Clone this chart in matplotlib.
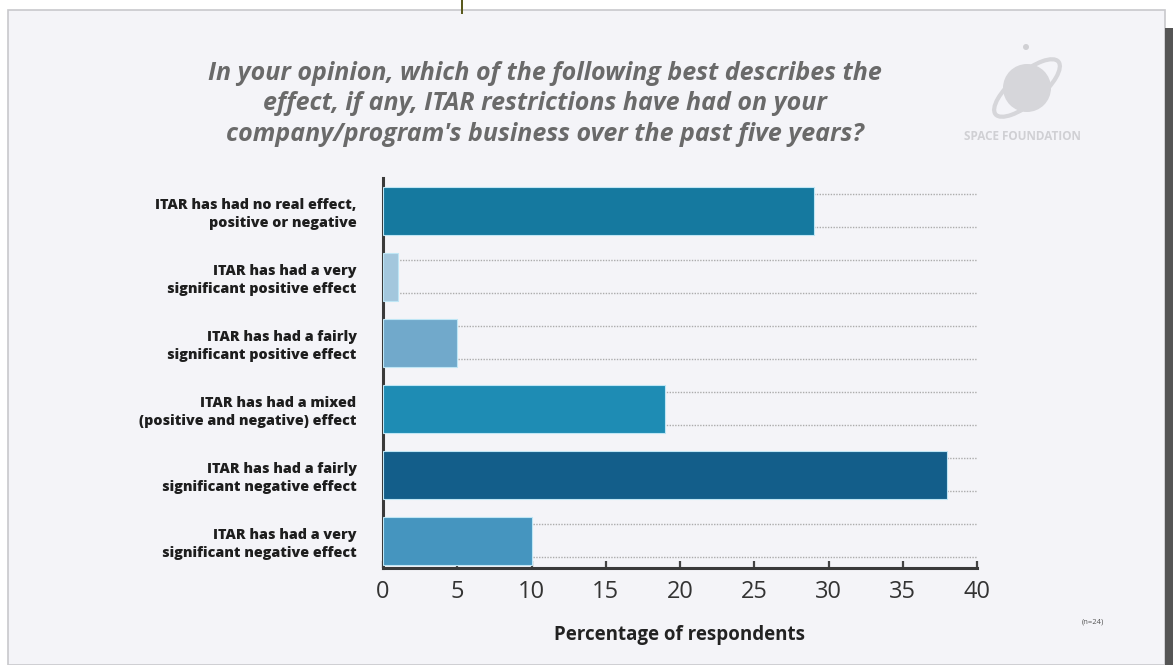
import matplotlib.pyplot as plt
from matplotlib.patches import Rectangle, Ellipse, Circle

# survey answers, top to bottom
labels = [
    "ITAR has had no real effect,\npositive or negative",
    "ITAR has had a very\nsignificant positive effect",
    "ITAR has had a fairly\nsignificant positive effect",
    "ITAR has had a mixed\n(positive and negative) effect",
    "ITAR has had a fairly\nsignificant negative effect",
    "ITAR has had a very\nsignificant negative effect",
]
percent = [29, 1, 5, 19, 38, 10]
bar_colors = ["#15799f", "#a3c7dd", "#71a9cb", "#1e8cb4", "#135e8a", "#4595bf"]
xticks = [0, 5, 10, 15, 20, 25, 30, 35, 40]

plt.rcParams['font.family'] = ['Open Sans', 'DejaVu Sans']

fig = plt.figure(figsize=(11.73, 6.65), dpi=100)
fig.patch.set_facecolor("white")

# page frame: light panel, dark right edge, small olive marker on top
fig.patches.append(Rectangle((8 / 1173, 0), 1157 / 1173, 1 - 10 / 665,
                             transform=fig.transFigure, facecolor="#f4f4f8",
                             edgecolor="#c8c8cc", linewidth=1.2, zorder=-5))
fig.patches.append(Rectangle((1165 / 1173, 0), 8 / 1173, 1 - 28 / 665,
                             transform=fig.transFigure, facecolor="#555555",
                             edgecolor="none", zorder=-5))
fig.patches.append(Rectangle((461 / 1173, 1 - 14 / 665), 2 / 1173, 14 / 665,
                             transform=fig.transFigure, facecolor="#5a5a1e",
                             edgecolor="none", zorder=-4))

ax = fig.add_axes([383 / 1173, 1 - 568 / 665, 594 / 1173, 390 / 665])
ax.set_facecolor("none")
ax.set_zorder(2)

y = list(range(len(percent)))
ax.barh(y, percent, height=0.73, color=bar_colors, edgecolor="#bfe6f5",
        linewidth=0.8, zorder=3)

# dotted guide lines above and below each bar
for i in y:
    for off in (-0.25, 0.25):
        ax.plot([0, 40], [i + off, i + off], color="#acacac", linewidth=1.0,
                linestyle=(0, (1, 1)), zorder=1)

ax.set_xlim(0, 40)
ax.set_ylim(5.41, -0.5)
ax.set_xticks(xticks)
ax.set_xticklabels([str(t) for t in xticks], fontsize=17, color="#333333")
ax.set_yticks(y)
ax.set_yticklabels(labels, fontsize=10.3, fontweight=800, color="#1e1e1e",
                   linespacing=1.35)
ax.tick_params(axis="x", direction="in", length=5, width=1.6, color="#444444",
               pad=9)
ax.tick_params(axis="y", length=0, pad=19)
for side in ("top", "right"):
    ax.spines[side].set_visible(False)
for side in ("left", "bottom"):
    ax.spines[side].set_color("#3a3a3a")
    ax.spines[side].set_linewidth(2.2)
ax.spines["bottom"].set_bounds(0, 40)

ax.set_xlabel("Percentage of respondents", fontsize=13.5, fontweight="bold",
              color="#222222", labelpad=15)

# question
fig.text(545 / 1173, 1 - 104 / 665,
         "In your opinion, which of the following best describes the\n"
         "effect, if any, ITAR restrictions have had on your\n"
         "company/program's business over the past five years?",
         ha="center", va="center", fontsize=18, fontstyle="italic",
         fontweight="bold", color="#6a6a6a", linespacing=1.27)

fig.text(1093 / 1173, 1 - 622 / 665, "(n=24)", ha="center", va="center",
         fontsize=5.5, color="#555555")

# faint logo mark in the corner
lax = fig.add_axes([980 / 1173, 1 - 150 / 665, 135 / 1173, 110 / 665])
lax.set_zorder(2)
lax.set_xlim(0, 135)
lax.set_ylim(0, 110)
lax.axis("off")
lax.add_patch(Circle((47, 62), 24, facecolor="#d6d6da", edgecolor="none"))
lax.add_patch(Ellipse((47, 62), 82, 30, angle=40, facecolor="none",
                      edgecolor="#d6d6da", linewidth=3))
lax.add_patch(Circle((46, 103), 3, facecolor="#d0d0d4", edgecolor="none"))
lax.text(42, 13, "SPACE FOUNDATION", ha="center", va="center", fontsize=8.5,
         color="#d0d0d4", fontweight="bold")

fig.savefig("out.png", dpi=100, facecolor=fig.get_facecolor())
